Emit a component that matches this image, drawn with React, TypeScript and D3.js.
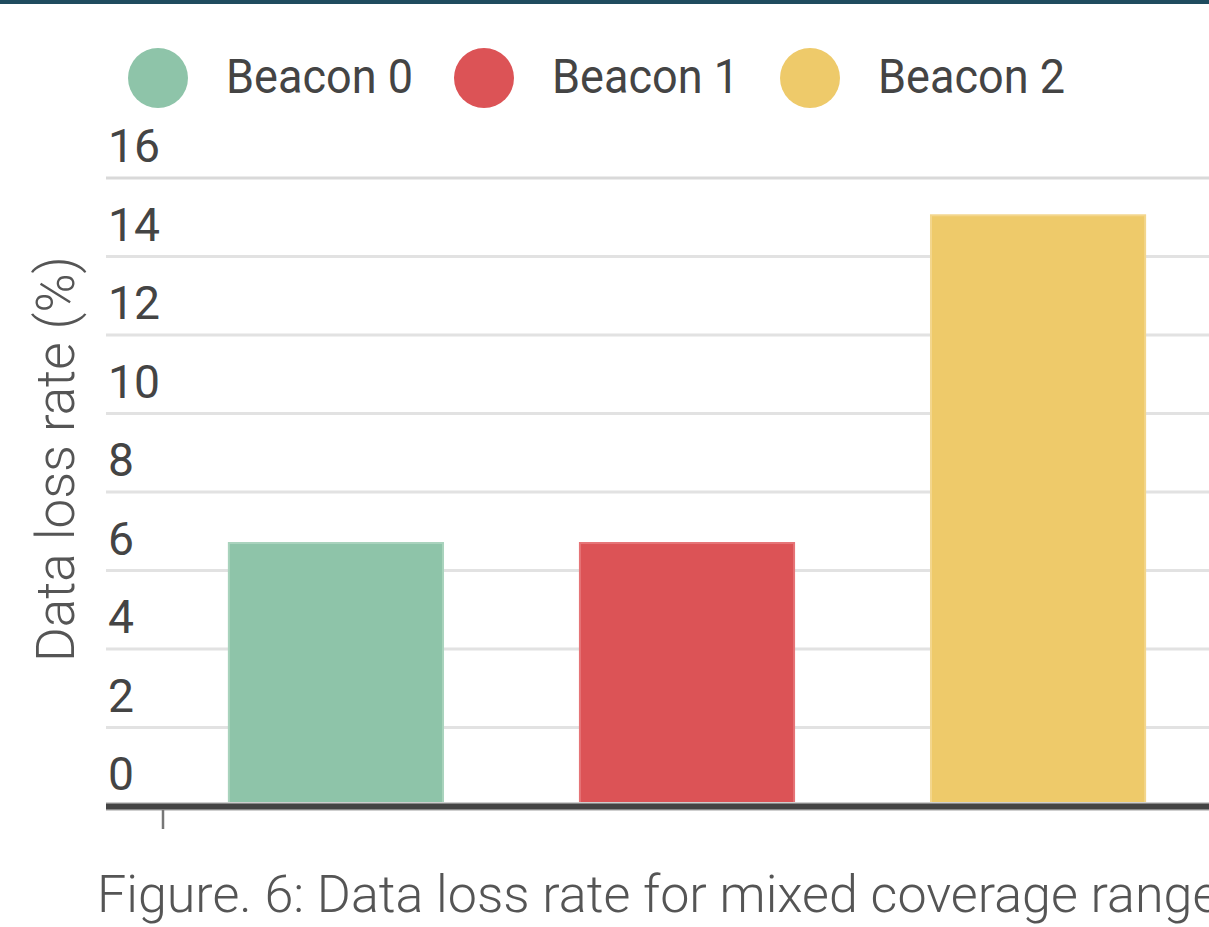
import * as d3 from 'd3';

const categories = ['Beacon 0', 'Beacon 1', 'Beacon 2'];
const lossRates = [6.7, 6.7, 15.05];
const colors = ['#8ec4a9', '#dc5356', '#eeca6a'];
const edgeColors = ['#a9d3bd', '#e67477', '#f3d68c'];
const yTicks = [0, 2, 4, 6, 8, 10, 12, 14, 16];

const W = 1209;
const H = 927;
const margin = { top: 178, left: 106, bottom: 806 };
const FONT = 'Roboto, "Noto Sans", sans-serif';

const App = () => {
  const y = d3.scaleLinear().domain([0, 16]).range([margin.bottom, margin.top]);
  const x = d3.scaleBand<string>()
    .domain(categories)
    .range([margin.left, 1268])
    .paddingInner(0.39)
    .paddingOuter(0.35);

  // legend layout
  const legendY = 78;
  const legendStart = 158;
  const legendStep = 326;

  return (
    <svg width={W} height={H} style={{ position: 'absolute', left: 0, top: 0, background: '#fff' }}>
      <rect x={0} y={0} width={W} height={4} fill="#1f4c5f" />

      {/* legend */}
      {categories.map((c, i) => (
        <g key={c} transform={`translate(${legendStart + i * legendStep},${legendY})`}>
          <circle r={30} fill={colors[i]} />
          <text x={68} y={15} fontFamily={FONT} fontSize={49} fill="#444"
            transform="scale(1,1)" textLength={187} lengthAdjust="spacingAndGlyphs">{c}</text>
        </g>
      ))}

      {/* gridlines + tick labels */}
      {yTicks.map(t => (
        <g key={t}>
          {t !== 0 && (
            <line x1={margin.left} x2={W} y1={y(t)} y2={y(t)}
              stroke={t === 16 ? '#d9d9d9' : '#e2e2e2'} strokeWidth={3} />
          )}
          <text x={108} y={y(t) - 16} fontFamily={FONT} fontSize={47} fill="#444"
            textLength={t >= 10 ? 52 : 26} lengthAdjust="spacingAndGlyphs">{t}</text>
        </g>
      ))}

      {/* bars */}
      {categories.map((c, i) => (
        <rect key={c}
          x={x(c)}
          y={y(lossRates[i])}
          width={x.bandwidth()}
          height={y(0) - y(lossRates[i])}
          fill={colors[i]}
          stroke={edgeColors[i]}
          strokeWidth={2}
        />
      ))}

      {/* baseline */}
      <line x1={margin.left} x2={W} y1={y(0) + 0.5} y2={y(0) + 0.5} stroke="#cfcfcf" strokeWidth={9} />
      <line x1={margin.left} x2={W} y1={y(0) + 0.5} y2={y(0) + 0.5} stroke="#444" strokeWidth={6} />
      <line x1={margin.left + 57} x2={margin.left + 57} y1={y(0) + 4} y2={y(0) + 23} stroke="#777" strokeWidth={2.5} />

      {/* y-axis title */}
      <text transform={`translate(74,459) rotate(-90)`} textAnchor="middle"
        fontFamily={FONT} fontWeight={300} fontSize={53} fill="#555">Data loss rate (%)</text>

      {/* caption */}
      <text x={97} y={912} fontFamily={FONT} fontWeight={300} fontSize={52} fill="#555">
        Figure. 6: Data loss rate for mixed coverage range
      </text>
    </svg>
  );
};

export default App;
